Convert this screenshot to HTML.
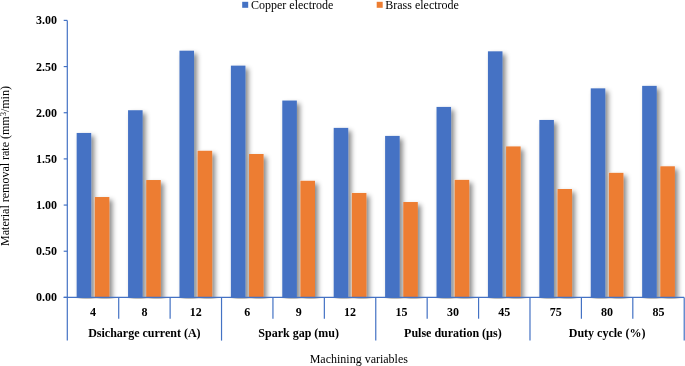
<!DOCTYPE html>
<html><head><meta charset="utf-8"><style>
html,body{margin:0;padding:0;background:#fff;}
body{width:685px;height:366px;overflow:hidden;}
svg{display:block;font-family:"Liberation Serif",serif;will-change:transform;}
</style></head><body>
<svg width="685" height="366" viewBox="0 0 685 366">
<defs><filter id="sh" x="-50%" y="-10%" width="200%" height="130%">
<feDropShadow dx="3" dy="3" stdDeviation="2.5" flood-color="#000" flood-opacity="0.47"/>
</filter><clipPath id="cp"><rect x="0" y="0" width="685" height="298.8"/></clipPath></defs>
<g clip-path="url(#cp)"><g filter="url(#sh)"><rect x="76.66" y="132.95" width="14.55" height="164.45" fill="#4472C4"/><rect x="94.80" y="197.03" width="14.55" height="100.37" fill="#ED7D31"/><rect x="128.06" y="110.24" width="14.55" height="187.16" fill="#4472C4"/><rect x="146.22" y="180.04" width="14.55" height="117.36" fill="#ED7D31"/><rect x="179.47" y="50.69" width="14.55" height="246.71" fill="#4472C4"/><rect x="197.62" y="150.77" width="14.55" height="146.63" fill="#ED7D31"/><rect x="230.89" y="65.64" width="14.55" height="231.76" fill="#4472C4"/><rect x="249.04" y="154.01" width="14.55" height="143.39" fill="#ED7D31"/><rect x="282.29" y="100.55" width="14.55" height="196.85" fill="#4472C4"/><rect x="300.44" y="180.78" width="14.55" height="116.62" fill="#ED7D31"/><rect x="333.70" y="127.88" width="14.55" height="169.52" fill="#4472C4"/><rect x="351.86" y="192.97" width="14.55" height="104.43" fill="#ED7D31"/><rect x="385.11" y="135.91" width="14.55" height="161.49" fill="#4472C4"/><rect x="403.26" y="202.02" width="14.55" height="95.38" fill="#ED7D31"/><rect x="436.52" y="106.92" width="14.55" height="190.48" fill="#4472C4"/><rect x="454.68" y="179.86" width="14.55" height="117.54" fill="#ED7D31"/><rect x="487.93" y="51.33" width="14.55" height="246.07" fill="#4472C4"/><rect x="506.08" y="146.43" width="14.55" height="150.97" fill="#ED7D31"/><rect x="539.34" y="119.94" width="14.55" height="177.46" fill="#4472C4"/><rect x="557.49" y="189.00" width="14.55" height="108.40" fill="#ED7D31"/><rect x="590.75" y="88.36" width="14.55" height="209.04" fill="#4472C4"/><rect x="608.90" y="172.84" width="14.55" height="124.56" fill="#ED7D31"/><rect x="642.16" y="85.86" width="14.55" height="211.54" fill="#4472C4"/><rect x="660.31" y="166.29" width="14.55" height="131.11" fill="#ED7D31"/></g></g>
<g stroke="#4472C4" stroke-width="1.2" fill="none"><line x1="67.3" y1="20.4" x2="67.3" y2="340.6" /><line x1="63.699999999999996" y1="297.40" x2="67.3" y2="297.40" /><line x1="63.699999999999996" y1="251.23" x2="67.3" y2="251.23" /><line x1="63.699999999999996" y1="205.07" x2="67.3" y2="205.07" /><line x1="63.699999999999996" y1="158.90" x2="67.3" y2="158.90" /><line x1="63.699999999999996" y1="112.73" x2="67.3" y2="112.73" /><line x1="63.699999999999996" y1="66.57" x2="67.3" y2="66.57" /><line x1="63.699999999999996" y1="20.40" x2="67.3" y2="20.40" /><line x1="63.699999999999996" y1="297.4" x2="684.2199999999999" y2="297.4" /><line x1="118.71" y1="297.4" x2="118.71" y2="318.7" /><line x1="170.12" y1="297.4" x2="170.12" y2="318.7" /><line x1="221.53" y1="297.4" x2="221.53" y2="340.6" /><line x1="272.94" y1="297.4" x2="272.94" y2="318.7" /><line x1="324.35" y1="297.4" x2="324.35" y2="318.7" /><line x1="375.76" y1="297.4" x2="375.76" y2="340.6" /><line x1="427.17" y1="297.4" x2="427.17" y2="318.7" /><line x1="478.58" y1="297.4" x2="478.58" y2="318.7" /><line x1="529.99" y1="297.4" x2="529.99" y2="340.6" /><line x1="581.40" y1="297.4" x2="581.40" y2="318.7" /><line x1="632.81" y1="297.4" x2="632.81" y2="318.7" /><line x1="684.22" y1="297.4" x2="684.22" y2="340.6" /></g>
<g font-weight="bold" font-size="12" fill="#000"><text x="57" y="301.40" text-anchor="end">0.00</text><text x="57" y="255.23" text-anchor="end">0.50</text><text x="57" y="209.07" text-anchor="end">1.00</text><text x="57" y="162.90" text-anchor="end">1.50</text><text x="57" y="116.73" text-anchor="end">2.00</text><text x="57" y="70.57" text-anchor="end">2.50</text><text x="57" y="24.40" text-anchor="end">3.00</text><text x="93.00" y="315.6" text-anchor="middle">4</text><text x="144.41" y="315.6" text-anchor="middle">8</text><text x="195.82" y="315.6" text-anchor="middle">12</text><text x="247.24" y="315.6" text-anchor="middle">6</text><text x="298.64" y="315.6" text-anchor="middle">9</text><text x="350.06" y="315.6" text-anchor="middle">12</text><text x="401.46" y="315.6" text-anchor="middle">15</text><text x="452.88" y="315.6" text-anchor="middle">30</text><text x="504.28" y="315.6" text-anchor="middle">45</text><text x="555.69" y="315.6" text-anchor="middle">75</text><text x="607.10" y="315.6" text-anchor="middle">80</text><text x="658.51" y="315.6" text-anchor="middle">85</text><text x="144.41" y="336.6" text-anchor="middle">Dsicharge current (A)</text><text x="298.64" y="336.6" text-anchor="middle">Spark gap (mu)</text><text x="452.88" y="336.6" text-anchor="middle">Pulse duration (µs)</text><text x="607.10" y="336.6" text-anchor="middle">Duty cycle (%)</text></g>
<text x="358.8" y="363" text-anchor="middle" font-size="12">Machining variables</text>
<text transform="translate(9.2,166) rotate(-90)" text-anchor="middle" font-size="12">Material removal rate (mm<tspan font-size="8.5" dy="-3.5">3</tspan><tspan dy="3.5">/min)</tspan></text>
<rect x="242.2" y="1.8" width="6" height="6" fill="#4472C4"/>
<text x="251" y="9" font-size="12">Copper electrode</text>
<rect x="376.7" y="1.8" width="6" height="6" fill="#ED7D31"/>
<text x="385.3" y="9" font-size="12">Brass electrode</text>
</svg>
</body></html>
